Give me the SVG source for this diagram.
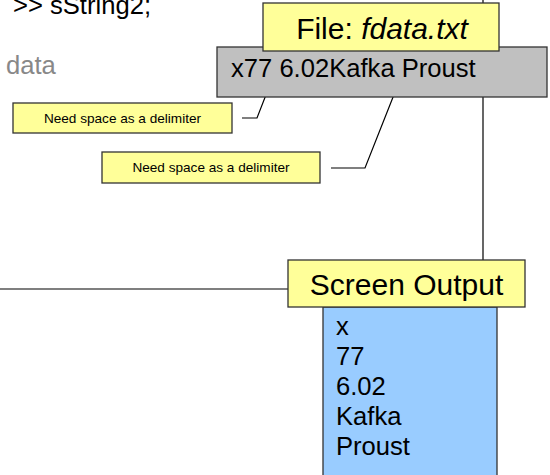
<svg xmlns="http://www.w3.org/2000/svg" width="550" height="475" viewBox="0 0 550 475">
<style>
text{font-family:"Liberation Sans",Arial,sans-serif;fill:#000}
.box{stroke:#333;stroke-width:1.3}
.yel{fill:#ffff99}
.ln{stroke:#000;stroke-width:1.2;fill:none}
.note{font-size:13.6px;text-anchor:middle}
.big{font-size:30px;text-anchor:middle}
.mid{font-size:25.6px}
</style>
<rect width="550" height="475" fill="#fff"/>
<g id="code">
<text class="mid" x="13" y="14">&gt;&gt; sString2;</text>
<text class="mid" x="6" y="74" style="fill:#888">data</text>
</g>
<g id="connectors">
<line class="ln" x1="483" y1="0" x2="483" y2="260"/>
<line class="ln" x1="0" y1="289" x2="288" y2="289"/>
<polyline class="ln" points="271,82 257,118 242,118"/>
<polyline class="ln" points="399,82 365,168 331,168"/>
</g>
<g id="filecontent">
<rect class="box" x="217" y="47" width="330" height="50" fill="#c0c0c0"/>
<text class="mid" x="231" y="77">x77 6.02Kafka Proust</text>
</g>
<g id="filelabel">
<rect class="box yel" x="263" y="3" width="236" height="48"/>
<text class="big" x="382" y="39">File: <tspan font-style="italic">fdata.txt</tspan></text>
</g>
<g id="note1">
<rect class="box yel" x="13" y="103" width="219" height="30"/>
<text class="note" x="122.5" y="123">Need space as a delimiter</text>
</g>
<g id="note2">
<rect class="box yel" x="102" y="152" width="218" height="31"/>
<text class="note" x="211" y="172">Need space as a delimiter</text>
</g>
<g id="output">
<rect class="box" x="323" y="307" width="174" height="175" fill="#99ccff"/>
<text class="mid" x="336" y="335">x</text>
<text class="mid" x="336" y="365">77</text>
<text class="mid" x="336" y="395">6.02</text>
<text class="mid" x="336" y="425">Kafka</text>
<text class="mid" x="336" y="455">Proust</text>
</g>
<g id="outputlabel">
<rect class="box yel" x="288" y="260" width="237" height="47"/>
<text class="big" x="406.5" y="295">Screen Output</text>
</g>
</svg>
